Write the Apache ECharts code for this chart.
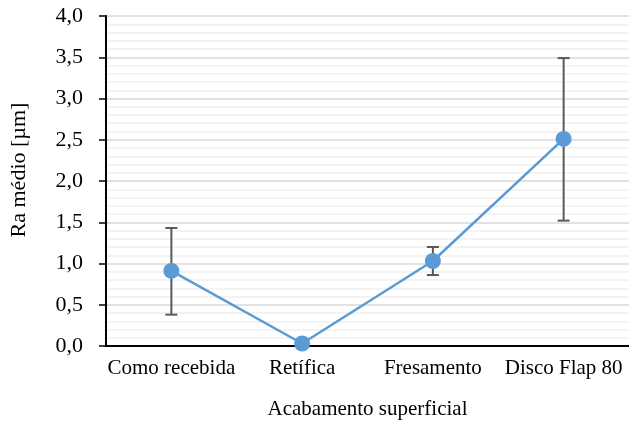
<!DOCTYPE html>
<html>
<head>
<meta charset="utf-8">
<script src="https://cdn.jsdelivr.net/npm/echarts@6/dist/echarts.min.js"></script>
<style>
  html, body { margin: 0; padding: 0; background: #fff; }
  #main { width: 629px; height: 427px; }
</style>
</head>
<body>
<div id="main"></div>
<script>
  const categories = ["Como recebida", "Retífica", "Fresamento", "Disco Flap 80"];
  const raMean = [0.91, 0.03, 1.03, 2.51];
  const raLow = [0.38, 0.03, 0.86, 1.52];
  const raHigh = [1.43, 0.03, 1.20, 3.49];

  const fontFamily = "'Liberation Serif', 'Times New Roman', serif";

  var chartDom = document.getElementById("main");
  var myChart = echarts.init(chartDom);

  // error bar rows: [index, low, high]
  const errorData = categories.map((c, i) => [i, raLow[i], raHigh[i]]);

  var option = {
    animation: false,
    textStyle: { fontFamily: fontFamily },
    grid: { left: 104, right: 0, top: 16, bottom: 81 },
    xAxis: {
      type: "category",
      data: categories,
      boundaryGap: true,
      name: "Acabamento superficial",
      nameLocation: "middle",
      nameGap: 53,
      nameTextStyle: { fontFamily: fontFamily, fontSize: 21, color: "#000" },
      axisLine: { lineStyle: { color: "#000", width: 2 } },
      axisTick: { alignWithLabel: true, length: 6, lineStyle: { color: "#000", width: 1.5 } },
      axisLabel: { fontFamily: fontFamily, fontSize: 21, color: "#000", margin: 12, interval: 0 },
      splitLine: { show: false },
    },
    yAxis: {
      type: "value",
      min: 0,
      max: 4,
      interval: 0.5,
      name: "Ra médio [µm]",
      nameLocation: "middle",
      nameGap: 76,
      nameTextStyle: { fontFamily: fontFamily, fontSize: 22, color: "#000", padding: [0, 0, 0, 22] },
      axisLine: { show: true, lineStyle: { color: "#000", width: 2 } },
      axisTick: { show: true, length: 7, lineStyle: { color: "#000", width: 1.5 } },
      axisLabel: {
        fontFamily: fontFamily,
        fontSize: 22,
        color: "#000",
        margin: 23,
        formatter: (v) => v.toFixed(1).replace(".", ","),
      },
      splitLine: { show: true, lineStyle: { color: "#d9d9d9", width: 1.5 } },
      minorTick: { show: false, splitNumber: 5 },
      minorSplitLine: { show: true, lineStyle: { color: "#f0f0f0", width: 1.5 } },
    },
    series: [
      {
        type: "custom",
        z: 1,
        data: errorData,
        renderItem: function (params, api) {
          const x = api.value(0);
          const lo = api.coord([x, api.value(1)]);
          const hi = api.coord([x, api.value(2)]);
          const half = 6;
          const style = { stroke: "#595959", lineWidth: 2 };
          return {
            type: "group",
            children: [
              { type: "line", shape: { x1: lo[0], y1: lo[1], x2: hi[0], y2: hi[1] }, style: style },
              { type: "line", shape: { x1: lo[0] - half, y1: lo[1], x2: lo[0] + half, y2: lo[1] }, style: style },
              { type: "line", shape: { x1: hi[0] - half, y1: hi[1], x2: hi[0] + half, y2: hi[1] }, style: style },
            ],
          };
        },
      },
      {
        type: "line",
        z: 3,
        data: raMean,
        symbol: "circle",
        symbolSize: 16,
        lineStyle: { color: "#5b9bd5", width: 2.5 },
        itemStyle: { color: "#5b9bd5" },
      },
    ],
  };

  option && myChart.setOption(option);
</script>
</body>
</html>
